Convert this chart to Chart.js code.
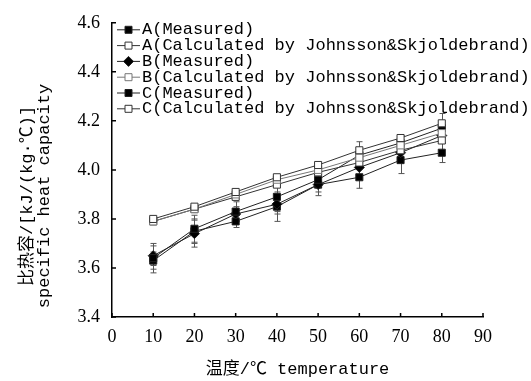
<!DOCTYPE html>
<html lang="zh">
<head>
    <meta charset="UTF-8">
    <title>比热容 specific heat capacity</title>
    <style>
        body {
            margin: 0;
            padding: 0;
            background-color: #fff;
        }
        .chart-container {
            width: 531px;
            height: 381px;
        }
    </style>
</head>
<body>
    <div class="chart-container">
        <canvas id="myChart" width="531" height="381"></canvas>
    </div>

    <script src="https://cdn.jsdelivr.net/npm/chart.js"></script>
    <script>
        // temperature (℃)
        var temps = [10, 20, 30, 40, 50, 60, 70, 80];

        // specific heat capacity kJ/(kg·℃)
        var aMeasured = [3.64, 3.76, 3.83, 3.89, 3.96, 4.06, 4.11, 4.17];
        var aCalc     = [3.80, 3.85, 3.91, 3.97, 4.02, 4.08, 4.13, 4.19];
        var bMeasured = [3.65, 3.74, 3.82, 3.86, 3.94, 4.01, 4.07, 4.14];
        var bCalc     = [3.79, 3.84, 3.90, 3.96, 4.00, 4.05, 4.10, 4.15];
        var cMeasured = [3.63, 3.75, 3.79, 3.85, 3.94, 3.97, 4.04, 4.07];
        var cCalc     = [3.79, 3.84, 3.89, 3.94, 3.99, 4.03, 4.08, 4.12];

        // error bars (±) of the measured series
        var aErr = [0.06, 0.055, 0.04, 0.06, 0.03, 0.055, 0.03, 0.06];
        var bErr = [0.04, 0.055, 0.03, 0.04, 0.03, 0.03, 0.03, 0.03];
        var cErr = [0.035, 0.05, 0.025, 0.06, 0.045, 0.045, 0.055, 0.04];

        var seriesLabels = [
            'A(Measured)',
            'A(Calculated by Johnsson&Skjoldebrand)',
            'B(Measured)',
            'B(Calculated by Johnsson&Skjoldebrand)',
            'C(Measured)',
            'C(Calculated by Johnsson&Skjoldebrand)'
        ];

        var xTickLabels = [0, 10, 20, 30, 40, 50, 60, 70, 80, 90];
        var yTickLabels = [3.4, 3.6, 3.8, 4.0, 4.2, 4.4, 4.6];

        var monoFont = "'Liberation Mono', 'Noto Sans CJK SC', monospace";
        var serifFont = "'Liberation Serif', 'Noto Sans CJK SC', serif";

        function toPoints(values) {
            return values.map(function (v, i) { return { x: temps[i], y: v }; });
        }

        function makeSet(idx, values, style, filled, color, err) {
            return {
                label: seriesLabels[idx],
                data: toPoints(values),
                errors: err || null,
                borderColor: color,
                borderWidth: 1,
                pointStyle: style,
                pointRadius: 5,
                pointHoverRadius: 5,
                pointBorderWidth: 1,
                pointBorderColor: color,
                pointBackgroundColor: filled ? '#000' : '#fff',
                fill: false,
                tension: 0
            };
        }

        var datasets = [
            makeSet(1, aCalc, 'rect', false, '#333'),
            makeSet(3, bCalc, 'rect', false, '#777'),
            makeSet(5, cCalc, 'rect', false, '#333'),
            makeSet(0, aMeasured, 'rect', true, '#222', aErr),
            makeSet(2, bMeasured, 'rectRot', true, '#222', bErr),
            makeSet(4, cMeasured, 'rect', true, '#222', cErr)
        ];
        // legend order as in the figure
        var legendOrder = [3, 0, 4, 1, 5, 2];

        var errorBars = {
            id: 'errorBars',
            beforeDatasetsDraw: function (chart) {
                var ctx = chart.ctx;
                var xs = chart.scales.x, ys = chart.scales.y;
                ctx.save();
                ctx.strokeStyle = '#555';
                ctx.lineWidth = 1;
                chart.data.datasets.forEach(function (ds) {
                    if (!ds.errors) return;
                    ds.data.forEach(function (p, i) {
                        var x = Math.round(xs.getPixelForValue(p.x)) + 0.5;
                        var yTop = ys.getPixelForValue(p.y + ds.errors[i]);
                        var yBot = ys.getPixelForValue(p.y - ds.errors[i]);
                        ctx.beginPath();
                        ctx.moveTo(x, yTop);
                        ctx.lineTo(x, yBot);
                        ctx.moveTo(x - 3, yTop);
                        ctx.lineTo(x + 3, yTop);
                        ctx.moveTo(x - 3, yBot);
                        ctx.lineTo(x + 3, yBot);
                        ctx.stroke();
                    });
                });
                ctx.restore();
            }
        };

        // small inward tick marks
        var innerTicks = {
            id: 'innerTicks',
            afterDraw: function (chart) {
                var ctx = chart.ctx;
                var xs = chart.scales.x, ys = chart.scales.y;
                var area = chart.chartArea;
                ctx.save();
                ctx.strokeStyle = '#000';
                ctx.lineWidth = 1.5;
                ctx.beginPath();
                xTickLabels.forEach(function (t) {
                    var x = xs.getPixelForValue(t);
                    ctx.moveTo(x, area.bottom);
                    ctx.lineTo(x, area.bottom - 4);
                });
                yTickLabels.forEach(function (t) {
                    var y = ys.getPixelForValue(t);
                    ctx.moveTo(area.left, y);
                    ctx.lineTo(area.left + 4, y);
                });
                ctx.stroke();
                ctx.restore();
            }
        };

        var sideLegend = {
            id: 'sideLegend',
            afterDraw: function (chart) {
                var ctx = chart.ctx;
                var area = chart.chartArea;
                var x0 = area.left + 5;
                ctx.save();
                ctx.font = '17px ' + monoFont;
                ctx.textBaseline = 'middle';
                ctx.textAlign = 'left';
                legendOrder.forEach(function (di, row) {
                    var ds = chart.data.datasets[di];
                    var y = area.top + 7 + row * 15.8;
                    ctx.strokeStyle = ds.borderColor;
                    ctx.lineWidth = 1;
                    ctx.beginPath();
                    ctx.moveTo(x0, y);
                    ctx.lineTo(x0 + 23, y);
                    ctx.stroke();
                    var cx = x0 + 11.5;
                    ctx.fillStyle = ds.pointBackgroundColor;
                    ctx.beginPath();
                    if (ds.pointStyle === 'rectRot') {
                        ctx.moveTo(cx - 5, y);
                        ctx.lineTo(cx, y - 5);
                        ctx.lineTo(cx + 5, y);
                        ctx.lineTo(cx, y + 5);
                        ctx.closePath();
                    } else {
                        ctx.rect(cx - 3.5, y - 3.5, 7, 7);
                    }
                    ctx.fill();
                    ctx.stroke();
                    ctx.fillStyle = '#000';
                    ctx.fillText(ds.label, x0 + 25, y);
                });
                ctx.restore();
            }
        };

        var yTitle = {
            id: 'yTitle',
            afterDraw: function (chart) {
                var ctx = chart.ctx;
                ctx.save();
                ctx.fillStyle = '#000';
                ctx.textAlign = 'center';
                ctx.textBaseline = 'middle';
                ctx.font = '17px ' + monoFont;
                ctx.translate(27, 196);
                ctx.rotate(-Math.PI / 2);
                ctx.fillText('比热容/[kJ/(kg·℃)]', 0, 0);
                ctx.fillText('specific heat capacity', 0, 17);
                ctx.restore();
            }
        };

        Chart.defaults.font.family = serifFont;
        Chart.defaults.color = '#000';

        var ctx = document.getElementById('myChart').getContext('2d');
        new Chart(ctx, {
            type: 'line',
            data: { datasets: datasets },
            plugins: [errorBars, innerTicks, sideLegend, yTitle],
            options: {
                responsive: false,
                devicePixelRatio: 1,
                animation: false,
                layout: { padding: { top: 16, right: 48, left: 0, bottom: 0 } },
                plugins: {
                    legend: { display: false },
                    tooltip: { enabled: false }
                },
                scales: {
                    x: {
                        type: 'linear',
                        min: 0,
                        max: 90,
                        afterBuildTicks: function (scale) {
                            scale.ticks = xTickLabels.map(function (v) { return { value: v }; });
                        },
                        afterFit: function (scale) { scale.height = 64; },
                        ticks: {
                            font: { size: 18, family: serifFont },
                            padding: 9,
                            maxRotation: 0
                        },
                        grid: { display: false, drawTicks: false },
                        border: { display: true, color: '#000', width: 1.5 },
                        title: {
                            display: true,
                            text: '温度/℃ temperature',
                            font: { size: 17, family: monoFont },
                            padding: { top: 0, bottom: 1 }
                        }
                    },
                    y: {
                        min: 3.4,
                        max: 4.6,
                        afterBuildTicks: function (scale) {
                            scale.ticks = yTickLabels.map(function (v) { return { value: v }; });
                        },
                        afterFit: function (scale) { scale.width = 112; },
                        ticks: {
                            font: { size: 18, family: serifFont },
                            padding: 12,
                            callback: function (v) { return Number(v).toFixed(1); }
                        },
                        grid: { display: false, drawTicks: false },
                        border: { display: true, color: '#000', width: 1.5 }
                    }
                }
            }
        });
    </script>
</body>
</html>
